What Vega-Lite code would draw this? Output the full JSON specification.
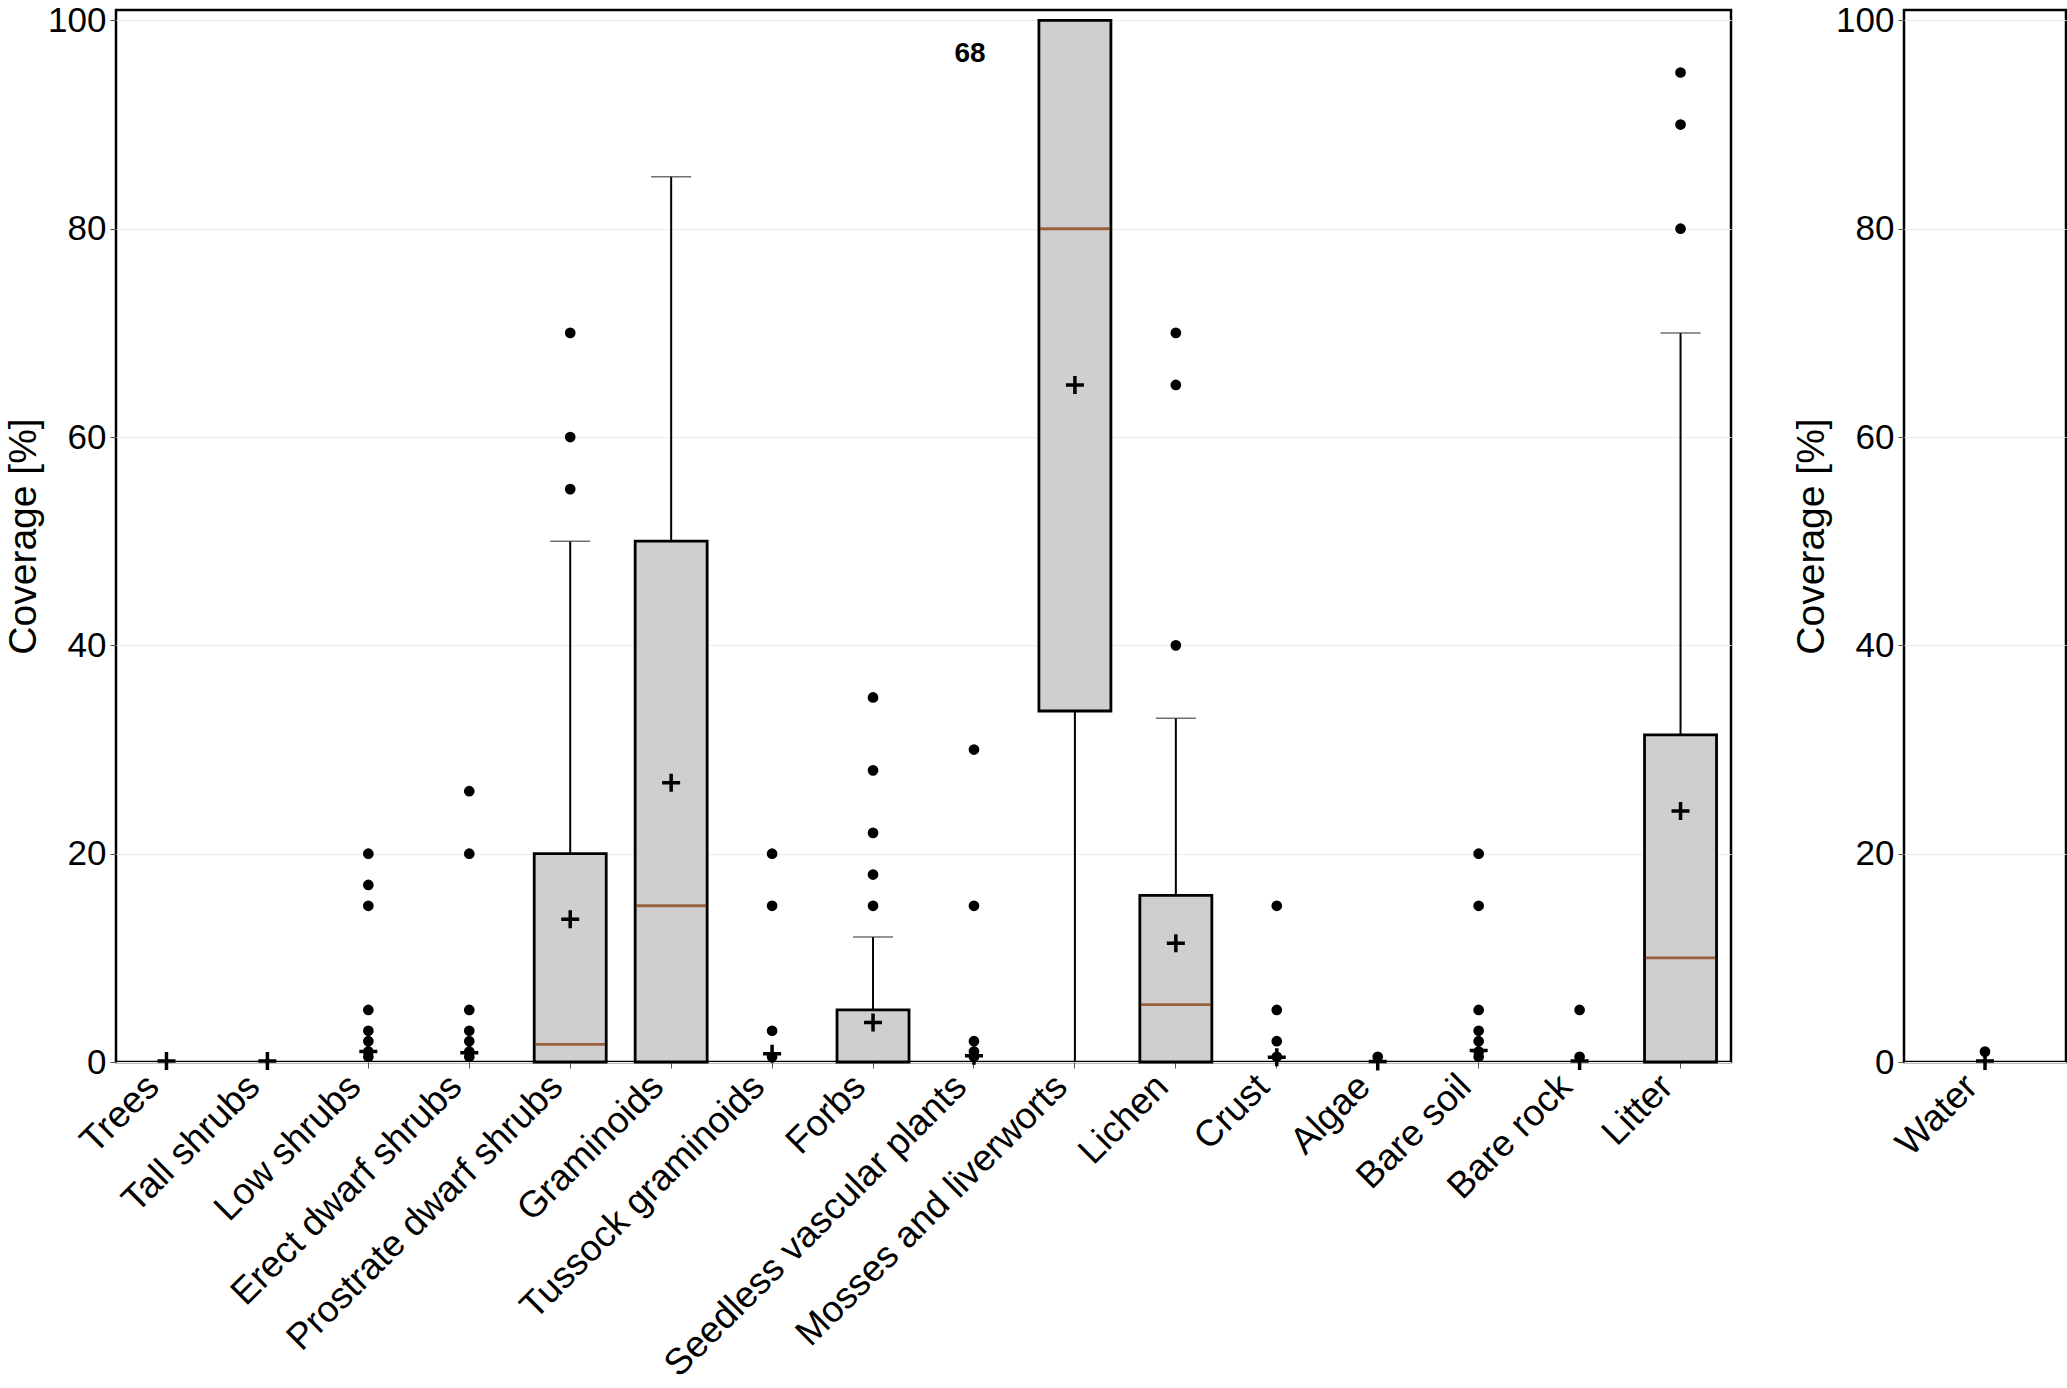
{
  "$schema": "https://vega.github.io/schema/vega-lite/v6.json",
  "padding": {"left": 3, "top": 2, "right": 0, "bottom": 0},
  "background": "white",
  "spacing": 58,
  "datasets": {
    "stats_main": [
      {"cat": "Trees", "mean": 0.1},
      {"cat": "Tall shrubs", "mean": 0.1},
      {"cat": "Low shrubs", "mean": 1.0},
      {"cat": "Erect dwarf shrubs", "mean": 0.9},
      {"cat": "Prostrate dwarf shrubs", "q1": 0, "q3": 20, "median": 1.7, "mean": 13.7, "lo": 0, "hi": 50, "cap": 50},
      {"cat": "Graminoids", "q1": 0, "q3": 50, "median": 15, "mean": 26.8, "lo": 0, "hi": 85, "cap": 85},
      {"cat": "Tussock graminoids", "mean": 0.8},
      {"cat": "Forbs", "q1": 0, "q3": 5, "mean": 3.8, "lo": 0, "hi": 12, "cap": 12},
      {"cat": "Seedless vascular plants", "mean": 0.6},
      {"cat": "Mosses and liverworts", "q1": 33.7, "q3": 100, "median": 80, "mean": 65, "lo": 0, "hi": 100},
      {"cat": "Lichen", "q1": 0, "q3": 16, "median": 5.5, "mean": 11.4, "lo": 0, "hi": 33, "cap": 33},
      {"cat": "Crust", "mean": 0.45},
      {"cat": "Algae", "mean": 0.05},
      {"cat": "Bare soil", "mean": 1.1},
      {"cat": "Bare rock", "mean": 0.1},
      {"cat": "Litter", "q1": 0, "q3": 31.4, "median": 10, "mean": 24.1, "lo": 0, "hi": 70, "cap": 70}
    ],
    "outliers_main": [
      {"cat": "Low shrubs", "value": 20}, {"cat": "Low shrubs", "value": 17}, {"cat": "Low shrubs", "value": 15}, {"cat": "Low shrubs", "value": 5}, {"cat": "Low shrubs", "value": 3}, {"cat": "Low shrubs", "value": 2}, {"cat": "Low shrubs", "value": 1}, {"cat": "Low shrubs", "value": 0.5},
      {"cat": "Erect dwarf shrubs", "value": 26}, {"cat": "Erect dwarf shrubs", "value": 20}, {"cat": "Erect dwarf shrubs", "value": 5}, {"cat": "Erect dwarf shrubs", "value": 3}, {"cat": "Erect dwarf shrubs", "value": 2}, {"cat": "Erect dwarf shrubs", "value": 1}, {"cat": "Erect dwarf shrubs", "value": 0.5},
      {"cat": "Prostrate dwarf shrubs", "value": 55}, {"cat": "Prostrate dwarf shrubs", "value": 60}, {"cat": "Prostrate dwarf shrubs", "value": 70},
      {"cat": "Tussock graminoids", "value": 20}, {"cat": "Tussock graminoids", "value": 15}, {"cat": "Tussock graminoids", "value": 3}, {"cat": "Tussock graminoids", "value": 0.5},
      {"cat": "Forbs", "value": 15}, {"cat": "Forbs", "value": 18}, {"cat": "Forbs", "value": 22}, {"cat": "Forbs", "value": 28}, {"cat": "Forbs", "value": 35},
      {"cat": "Seedless vascular plants", "value": 30}, {"cat": "Seedless vascular plants", "value": 15}, {"cat": "Seedless vascular plants", "value": 2}, {"cat": "Seedless vascular plants", "value": 1}, {"cat": "Seedless vascular plants", "value": 0.5},
      {"cat": "Lichen", "value": 40}, {"cat": "Lichen", "value": 65}, {"cat": "Lichen", "value": 70},
      {"cat": "Crust", "value": 15}, {"cat": "Crust", "value": 5}, {"cat": "Crust", "value": 2}, {"cat": "Crust", "value": 0.5},
      {"cat": "Algae", "value": 0.5},
      {"cat": "Bare soil", "value": 20}, {"cat": "Bare soil", "value": 15}, {"cat": "Bare soil", "value": 5}, {"cat": "Bare soil", "value": 3}, {"cat": "Bare soil", "value": 2}, {"cat": "Bare soil", "value": 1}, {"cat": "Bare soil", "value": 0.5},
      {"cat": "Bare rock", "value": 5}, {"cat": "Bare rock", "value": 0.5},
      {"cat": "Litter", "value": 80}, {"cat": "Litter", "value": 90}, {"cat": "Litter", "value": 95}
    ],
    "notes_main": [{"cat": "Seedless vascular plants", "y": 96.8, "label": "68"}],
    "stats_water": [{"cat": "Water", "mean": 0.1}],
    "outliers_water": [{"cat": "Water", "value": 1.0}]
  },
  "hconcat": [
    {
      "width": 1615,
      "height": 1052,
      "encoding": {
        "x": {
          "field": "cat", "type": "nominal", "title": null,
          "scale": {"type": "band", "paddingInner": 0, "paddingOuter": 0,
            "domain": ["Trees", "Tall shrubs", "Low shrubs", "Erect dwarf shrubs", "Prostrate dwarf shrubs", "Graminoids", "Tussock graminoids", "Forbs", "Seedless vascular plants", "Mosses and liverworts", "Lichen", "Crust", "Algae", "Bare soil", "Bare rock", "Litter"]}
        }
      },
      "layer": [
        {
          "data": {"name": "stats_main"},
          "mark": {"type": "rule", "color": "black", "strokeWidth": 2},
          "encoding": {
            "y": {"field": "lo", "type": "quantitative", "title": "Coverage [%]", "scale": {"domain": [0, 101], "nice": false, "zero": true}, "axis": {"values": [0, 20, 40, 60, 80, 100]}},
            "y2": {"field": "hi"}
          }
        },
        {
          "data": {"name": "stats_main"},
          "mark": {"type": "tick", "color": "#333333", "size": 40, "thickness": 1.5},
          "encoding": {
            "y": {"field": "cap", "type": "quantitative", "title": "Coverage [%]", "scale": {"domain": [0, 101], "nice": false, "zero": true}, "axis": {"values": [0, 20, 40, 60, 80, 100]}}
          }
        },
        {
          "data": {"name": "stats_main"},
          "mark": {"type": "bar", "width": 72, "fill": "#D0CECF", "stroke": "black", "strokeWidth": 2.8},
          "encoding": {
            "y": {"field": "q1", "type": "quantitative", "title": "Coverage [%]", "scale": {"domain": [0, 101], "nice": false, "zero": true}, "axis": {"values": [0, 20, 40, 60, 80, 100]}},
            "y2": {"field": "q3"}
          }
        },
        {
          "data": {"name": "stats_main"},
          "mark": {"type": "tick", "color": "#7F3300", "size": 70, "thickness": 2.8},
          "encoding": {
            "y": {"field": "median", "type": "quantitative", "title": "Coverage [%]", "scale": {"domain": [0, 101], "nice": false, "zero": true}, "axis": {"values": [0, 20, 40, 60, 80, 100]}}
          }
        },
        {
          "data": {"name": "outliers_main"},
          "mark": {"type": "circle", "color": "black", "size": 115, "opacity": 1},
          "encoding": {
            "y": {"field": "value", "type": "quantitative", "title": "Coverage [%]", "scale": {"domain": [0, 101], "nice": false, "zero": true}, "axis": {"values": [0, 20, 40, 60, 80, 100]}}
          }
        },
        {
          "data": {"name": "stats_main"},
          "mark": {"type": "point", "shape": "M-1,0H1M0,-1V1", "size": 324, "filled": false, "stroke": "black", "strokeWidth": 3.5, "opacity": 1},
          "encoding": {
            "y": {"field": "mean", "type": "quantitative", "title": "Coverage [%]", "scale": {"domain": [0, 101], "nice": false, "zero": true}, "axis": {"values": [0, 20, 40, 60, 80, 100]}}
          }
        },
        {
          "data": {"name": "notes_main"},
          "mark": {"type": "text", "font": "Liberation Sans Narrow, Liberation Sans", "fontWeight": "bold", "fontSize": 28, "color": "black", "baseline": "middle", "align": "center", "dx": -4},
          "encoding": {
            "y": {"field": "y", "type": "quantitative", "title": "Coverage [%]", "scale": {"domain": [0, 101], "nice": false, "zero": true}, "axis": {"values": [0, 20, 40, 60, 80, 100]}},
            "text": {"field": "label"}
          }
        }
      ]
    },
    {
      "width": 162,
      "height": 1052,
      "encoding": {
        "x": {
          "field": "cat", "type": "nominal", "title": null,
          "scale": {"type": "band", "paddingInner": 0, "paddingOuter": 0, "domain": ["Water"]}
        }
      },
      "layer": [
        {
          "data": {"name": "outliers_water"},
          "mark": {"type": "circle", "color": "black", "size": 115, "opacity": 1},
          "encoding": {
            "y": {"field": "value", "type": "quantitative", "title": "Coverage [%]", "scale": {"domain": [0, 101], "nice": false, "zero": true}, "axis": {"values": [0, 20, 40, 60, 80, 100]}}
          }
        },
        {
          "data": {"name": "stats_water"},
          "mark": {"type": "point", "shape": "M-1,0H1M0,-1V1", "size": 324, "filled": false, "stroke": "black", "strokeWidth": 3.5, "opacity": 1},
          "encoding": {
            "y": {"field": "mean", "type": "quantitative", "title": "Coverage [%]", "scale": {"domain": [0, 101], "nice": false, "zero": true}, "axis": {"values": [0, 20, 40, 60, 80, 100]}}
          }
        }
      ]
    }
  ],
  "config": {
    "font": "Liberation Sans",
    "view": {"stroke": "black", "strokeWidth": 2.5},
    "axis": {
      "labelFont": "Liberation Sans", "labelFontSize": 35, "labelColor": "black", "labelLimit": 0,
      "titleFont": "Liberation Sans", "titleFontSize": 39, "titleFontWeight": "normal", "titleColor": "black",
      "domain": false, "tickColor": "#555555", "tickSize": 6, "tickWidth": 1
    },
    "axisY": {"grid": true, "gridColor": "#ECECEC", "gridWidth": 1, "labelPadding": 4, "titlePadding": 4},
    "axisX": {"grid": false, "labelAngle": -45, "labelPadding": 0, "labelOffset": -26, "labelFontSize": 37}
  }
}
